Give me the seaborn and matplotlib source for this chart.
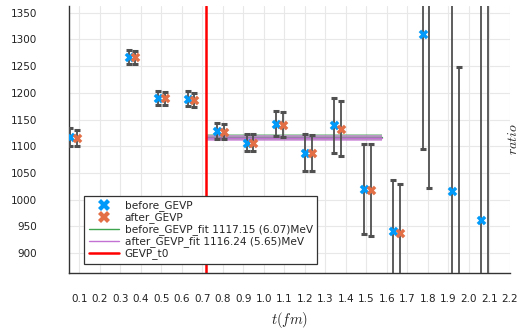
import matplotlib
matplotlib.use("Agg")
import matplotlib.pyplot as plt
import seaborn as sns
import numpy as np
from matplotlib.lines import Line2D

# Effective-mass ratio before and after the GEVP step, versus time t (fm)
t_before = [0.056, 0.341, 0.485, 0.628, 0.772, 0.916, 1.058, 1.201, 1.344, 1.489, 1.631, 1.774, 1.918, 2.060]
m_before = [1117.5, 1267.6, 1190.7, 1188.8, 1128.2, 1106.9, 1142.6, 1088.2, 1139.4, 1020.6, 942.3, 1309.7, 1016.1, 963.0]
e_before = [16.0, 13.0, 13.0, 14.0, 14.5, 16.0, 24.0, 34.0, 51.0, 84.0, 95.0, 215.0, 430.0, 460.0]

t_after = [0.089, 0.374, 0.518, 0.661, 0.805, 0.949, 1.091, 1.234, 1.377, 1.522, 1.664, 1.807, 1.951, 2.093]
m_after = [1116.3, 1266.5, 1189.5, 1186.4, 1126.9, 1106.5, 1140.7, 1087.6, 1133.2, 1017.4, 937.3, 1420.0, 800.0, 1450.0]
e_after = [15.0, 12.5, 13.0, 13.5, 14.0, 16.0, 24.0, 34.0, 51.5, 86.0, 92.0, 398.0, 449.0, 700.0]

# Constant fits over the plateau window
fit_window = [0.7165, 1.576]
fit_before, fit_before_err = 1117.15, 6.07
fit_after, fit_after_err = 1116.24, 5.65
gevp_t0 = 0.717

x_ticks = [0.1, 0.2, 0.3, 0.4, 0.5, 0.6, 0.7, 0.8, 0.9, 1.0, 1.1, 1.2, 1.3, 1.4, 1.5,
           1.6, 1.7, 1.8, 1.9, 2.0, 2.1, 2.2]
y_ticks = [900, 950, 1000, 1050, 1100, 1150, 1200, 1250, 1300, 1350]

BLUE = '#009AFA'
ORANGE = '#E26F46'
GREEN = '#3EA44E'
PURPLE = '#C371D2'

sns.set_style("white")
plt.rcParams['font.family'] = ['DejaVu Sans']
plt.rcParams['mathtext.fontset'] = 'cm'

fig = plt.figure(figsize=(5.2, 3.31), dpi=100)
ax = fig.add_axes([69 / 520, 1 - 272.7 / 331, (510 - 69) / 520, (272.7 - 5.5) / 331])

# plateau fits with their uncertainty ribbons
for mean, err, color, alpha in [(fit_before, fit_before_err, GREEN, 0.45),
                                (fit_after, fit_after_err, PURPLE, 0.6)]:
    ax.fill_between(fit_window, [mean - err] * 2, [mean + err] * 2, color=color, alpha=alpha, lw=0, zorder=2)
    ax.plot(fit_window, [mean, mean], color=color, lw=1, zorder=2)

ax.axvline(gevp_t0, color='red', lw=1.8, zorder=2.5)

for t, m, e, c in [(t_before, m_before, e_before, BLUE), (t_after, m_after, e_after, ORANGE)]:
    cont = ax.errorbar(t, m, yerr=e, fmt='none', ecolor='#505050', elinewidth=1.3,
                       capsize=2.5, capthick=2.2, zorder=3)
    for cap in cont[1]:
        cap.set_color('black')
    sns.scatterplot(x=t, y=m, marker='X', color=c, s=48, linewidth=0, ax=ax, zorder=4, legend=False)

ax.set_xlim(0.05, 2.2)
ax.set_ylim(863.5, 1363.5)
ax.set_xticks(x_ticks)
ax.set_xticklabels([f"{v:.1f}" for v in x_ticks])
ax.set_yticks(y_ticks)
ax.set_yticklabels([str(v) for v in y_ticks])

ax.grid(True, color='#e8e8e8', lw=0.8)
ax.set_axisbelow(True)
for side in ['top', 'right']:
    ax.spines[side].set_visible(False)
for side in ['left', 'bottom']:
    ax.spines[side].set_color('#333333')
    ax.spines[side].set_linewidth(1.0)

ax.tick_params(axis='x', direction='in', length=3.5, width=0.8, color='#333333',
               labelsize=7.5, pad=15, labelcolor='#222222')
ax.tick_params(axis='y', direction='in', length=3.5, width=0.8, color='#333333',
               labelsize=7.5, pad=23, labelcolor='#222222')

ax.set_xlabel('$t(fm)$', fontsize=10.5, labelpad=5)
ax.yaxis.set_label_position('right')
ax.set_ylabel('$ratio$', fontsize=10, labelpad=-3)

handles = [
    Line2D([], [], marker='X', color=BLUE, ls='none', markersize=8.5, mew=0),
    Line2D([], [], marker='X', color=ORANGE, ls='none', markersize=8.5, mew=0),
    Line2D([], [], color=GREEN, lw=1),
    Line2D([], [], color=PURPLE, lw=1),
    Line2D([], [], color='red', lw=1.8),
]
labels = [
    'before_GEVP',
    'after_GEVP',
    f'before_GEVP_fit {fit_before:.2f} ({fit_before_err:.2f})MeV',
    f'after_GEVP_fit {fit_after:.2f} ({fit_after_err:.2f})MeV',
    'GEVP_t0',
]
leg = ax.legend(handles, labels, loc='lower left', bbox_to_anchor=(0.034, 0.0325),
                fontsize=7.6, frameon=True, fancybox=False, edgecolor='#333333', framealpha=1,
                borderpad=0.45, labelspacing=0.1, handlelength=2.9, handletextpad=0.5,
                borderaxespad=0)
leg.get_frame().set_linewidth(0.9)
leg.set_zorder(10)

fig.savefig('out.png', dpi=100)
